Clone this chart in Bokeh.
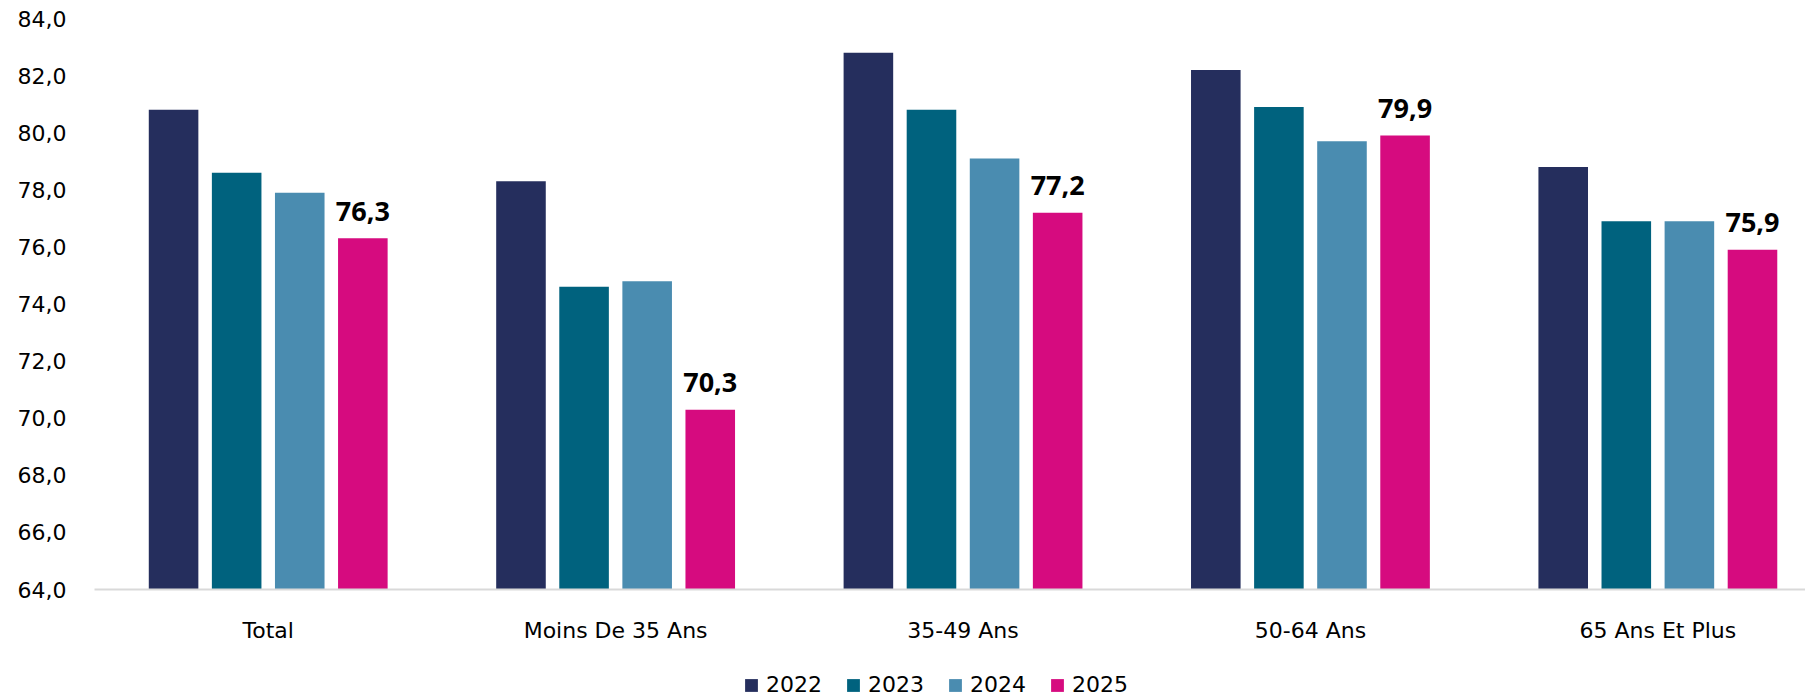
import numpy as np
from bokeh.plotting import figure
from bokeh.layouts import column
from bokeh.models import ColumnDataSource, FixedTicker, Legend, LegendItem, Range1d
from bokeh.core.properties import value
from bokeh.embed import file_html
from bokeh.resources import INLINE

categories = ["Total", "Moins De 35 Ans", "35-49 Ans", "50-64 Ans", "65 Ans Et Plus"]
years = ["2022", "2023", "2024", "2025"]
v2022 = [80.8, 78.3, 82.8, 82.2, 78.8]
v2023 = [78.6, 74.6, 80.8, 80.9, 76.9]
v2024 = [77.9, 74.8, 79.1, 79.7, 76.9]
v2025 = [76.3, 70.3, 77.2, 79.9, 75.9]
y_ticks = [64, 66, 68, 70, 72, 74, 76, 78, 80, 82, 84]

colors = ["#252e5d", "#00627e", "#4a8cb0", "#d60b7f"]
series = [v2022, v2023, v2024, v2025]

p = figure(width=1805, height=645, output_backend="svg", toolbar_location=None,
           x_range=Range1d(-0.5, 4.425), y_range=Range1d(64, 84),
           min_border_left=94, min_border_right=0, min_border_top=18, min_border_bottom=54)
p.outline_line_color = None
p.grid.visible = False
p.background_fill_color = "white"

pitch = 0.1816
bw = 0.1427
idx = np.arange(len(categories))
sources = []
for k, (vals, col) in enumerate(zip(series, colors)):
    src = ColumnDataSource(dict(x=idx + (k - 1.5) * pitch, top=vals))
    sources.append(src)
    p.vbar(x="x", top="top", bottom=64, width=bw, source=src,
           fill_color=col, line_color=None)

lab_src = ColumnDataSource(dict(x=idx + 1.5 * pitch, y=v2025,
                                t=[f"{v:.1f}".replace(".", ",") for v in v2025]))
p.text(x="x", y="y", text="t", source=lab_src, text_align="center",
       text_baseline="alphabetic", y_offset=-27,
       text_font=value("Open Sans"), text_font_style="bold",
       text_font_size="27px", text_color="#000000")

# axes
p.xaxis.ticker = FixedTicker(ticks=list(range(len(categories))))
p.xaxis.major_label_overrides = {i: c for i, c in enumerate(categories)}
p.xaxis.major_tick_line_color = None
p.xaxis.major_tick_out = 0
p.xaxis.major_tick_in = 0
p.xaxis.minor_tick_line_color = None
p.xaxis.axis_line_color = "#d9d9d9"
p.xaxis.axis_line_width = 2
p.xaxis.major_label_text_font = "DejaVu Sans"
p.xaxis.major_label_text_font_size = "22px"
p.xaxis.major_label_text_color = "#000000"
p.xaxis.major_label_standoff = 28

p.yaxis.ticker = FixedTicker(ticks=y_ticks)
p.yaxis.major_label_overrides = {t: f"{t:.1f}".replace(".", ",") for t in y_ticks}
p.yaxis.major_tick_line_color = None
p.yaxis.major_tick_out = 0
p.yaxis.major_tick_in = 0
p.yaxis.minor_tick_line_color = None
p.yaxis.axis_line_color = None
p.yaxis.major_label_text_font = "DejaVu Sans"
p.yaxis.major_label_text_font_size = "22px"
p.yaxis.major_label_text_color = "#000000"
p.yaxis.major_label_standoff = 28

# legend strip: a small figure whose (zero-width, out-of-view) bars share the data sources
pl = figure(width=1805, height=52, output_backend="svg", toolbar_location=None,
            x_range=Range1d(-0.5, 4.425), y_range=Range1d(1000, 1001),
            x_axis_location=None, y_axis_location=None,
            min_border_left=0, min_border_right=0, min_border_top=0, min_border_bottom=0)
pl.outline_line_color = None
pl.grid.visible = False
leg_renderers = [pl.vbar(x="x", top="top", bottom=64, width=0, source=s,
                         fill_color=c, line_color=None)
                 for s, c in zip(sources, colors)]
legend = Legend(items=[LegendItem(label=y, renderers=[r]) for y, r in zip(years, leg_renderers)],
                orientation="horizontal", location=(649, 0),
                glyph_width=16, glyph_height=16, label_standoff=7, spacing=23,
                padding=0, margin=0, border_line_color=None, background_fill_alpha=0,
                label_text_font="DejaVu Sans", label_text_font_size="22px",
                label_text_color="#000000")
pl.add_layout(legend, "center")

layout = column(p, pl, spacing=0)
open("out.html", "w").write(file_html(layout, INLINE))
